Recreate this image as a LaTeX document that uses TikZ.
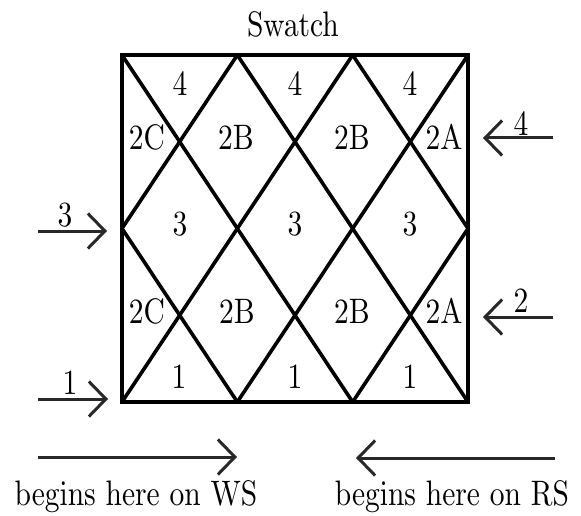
\documentclass[tikz,border=0pt]{standalone}
\usepackage{graphicx}
\usetikzlibrary{arrows.meta}

% heavy serif face (10pt design scaled up) in a tall cut for all labels
\font\lblfont=cmr10 at 29.5pt
\newcommand\tallt[1]{\scalebox{1}[1.2]{#1}}

\tikzset{
  lbl/.style={inner sep=0pt, font=\lblfont},
  frame/.style={line width=4pt, line join=miter, black},
  diag/.style={line width=3.6pt, black, line cap=butt},
  pointer/.style={line width=3pt, draw={rgb,255:red,40;green,40;blue,40},
    -{Straight Barb[length=17pt,width=35pt]}},
}

\begin{document}
\begin{tikzpicture}[x=1pt,y=-1pt]
\useasboundingbox (0,0) rectangle (581,516);

% swatch outline corners and edge points
\coordinate (tl) at (122,55);
\coordinate (tr) at (468,55);
\coordinate (bl) at (122,402);
\coordinate (br) at (468,402);
\coordinate (t1) at (237.33,55);
\coordinate (t2) at (352.67,55);
\coordinate (b1) at (237.33,402);
\coordinate (b2) at (352.67,402);
\coordinate (ml) at (122,228.5);
\coordinate (mr) at (468,228.5);

% diagonal lattice
\draw[diag] (tl) -- (b2);
\draw[diag] (t1) -- (br);
\draw[diag] (t2) -- (mr);
\draw[diag] (ml) -- (b1);
\draw[diag] (t1) -- (ml);
\draw[diag] (t2) -- (bl);
\draw[diag] (tr) -- (b1);
\draw[diag] (mr) -- (b2);

% outline
\draw[frame] (tl) -- (tr) -- (br) -- (bl) -- cycle;

% title
\node[lbl, anchor=base] (title) at (293,37) {\tallt{Swatch}};

% row labels
\node[lbl] (r4a) at (180,84) {\tallt{4}};
\node[lbl] (r4b) at (295,84) {\tallt{4}};
\node[lbl] (r4c) at (410,84) {\tallt{4}};

\node[lbl] (u2c) at (147,137) {\tallt{2C}};
\node[lbl] (u2b) at (236,137) {\tallt{2B}};
\node[lbl] (u2d) at (352,137) {\tallt{2B}};
\node[lbl] (u2a) at (444,137) {\tallt{2A}};

\node[lbl] (r3a) at (180,224) {\tallt{3}};
\node[lbl] (r3b) at (295,224) {\tallt{3}};
\node[lbl] (r3c) at (410,224) {\tallt{3}};

\node[lbl] (l2c) at (147,311) {\tallt{2C}};
\node[lbl] (l2b) at (237,311) {\tallt{2B}};
\node[lbl] (l2d) at (352,311) {\tallt{2B}};
\node[lbl] (l2a) at (444,311) {\tallt{2A}};

\node[lbl] (r1a) at (179,377) {\tallt{1}};
\node[lbl] (r1b) at (295,377) {\tallt{1}};
\node[lbl] (r1c) at (410,377) {\tallt{1}};

% row entry arrows
\coordinate (a3s) at (38,231);  \coordinate (a3e) at (107,231);
\coordinate (a1s) at (38,399);  \coordinate (a1e) at (108,399);
\coordinate (a4s) at (553,138); \coordinate (a4e) at (483,138);
\coordinate (a2s) at (553,317); \coordinate (a2e) at (483,317);
\draw[pointer] (a3s) -- (a3e);
\draw[pointer] (a1s) -- (a1e);
\draw[pointer] (a4s) -- (a4e);
\draw[pointer] (a2s) -- (a2e);
\node[lbl] (n3) at (65,215) {\tallt{3}};
\node[lbl] (n1) at (70,383) {\tallt{1}};
\node[lbl] (n4) at (521,124) {\tallt{4}};
\node[lbl] (n2) at (521,301) {\tallt{2}};

% working direction arrows
\coordinate (wss) at (38,457);  \coordinate (wse) at (237,457);
\coordinate (rss) at (555,458); \coordinate (rse) at (356,458);
\draw[pointer] (wss) -- (wse);
\draw[pointer] (rss) -- (rse);
\node[lbl, anchor=base] (ws) at (136,505) {\tallt{begins here on WS}};
\node[lbl, anchor=base] (rs) at (452,505) {\tallt{begins here on RS}};
\end{tikzpicture}
\end{document}
